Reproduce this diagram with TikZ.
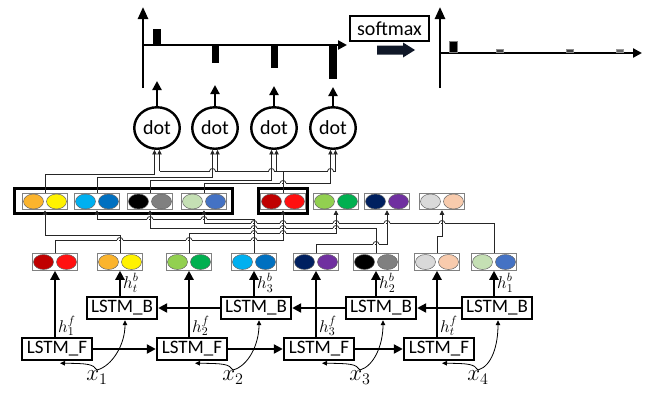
\RequirePackage{fix-cm}
\documentclass[tikz,border=0pt]{standalone}
\usepackage{fontspec}
\newfontfamily\carl{Carlito}
\usetikzlibrary{arrows.meta,shapes.geometric}
\definecolor{cOrange}{HTML}{FBB42D}
\definecolor{cYellow}{HTML}{FFF200}
\definecolor{cCyan}{HTML}{00B0F0}
\definecolor{cBlue}{HTML}{0070C0}
\definecolor{cGrey}{HTML}{808080}
\definecolor{cLGreen}{HTML}{C5E0B4}
\definecolor{cMBlue}{HTML}{4472C4}
\definecolor{cDRed}{HTML}{C00000}
\definecolor{cRed}{HTML}{FF1010}
\definecolor{cGreenA}{HTML}{92D050}
\definecolor{cGreenB}{HTML}{00B050}
\definecolor{cNavy}{HTML}{002060}
\definecolor{cPurple}{HTML}{7030A0}
\definecolor{cLGrey}{HTML}{D9D9D9}
\definecolor{cPeach}{HTML}{F8CBAD}
\definecolor{cBlk}{RGB}{16,24,40}
\newcommand{\mkpair}[5]{%
  \node[pairbox] (#1) at (#2,#3) {};
  \filldraw[ell, fill=#4] ([xshift=-11.5pt]#1.center) ellipse [x radius=10pt, y radius=7.5pt];
  \filldraw[ell, fill=#5] ([xshift=11.5pt]#1.center) ellipse [x radius=10pt, y radius=7.5pt];}
\newcommand{\hop}[2]{%
  \fill[white] (#1-2.9,#2-0.8) rectangle (#1-0.6,#2+0.8);
  \fill[white] (#1+0.6,#2-0.8) rectangle (#1+2.9,#2+0.8);
  \draw[wire] (#1-2.9,#2) .. controls (#1-2.9,#2-3.2) and (#1+2.9,#2-3.2) .. (#1+2.9,#2);}
\begin{document}
\begin{tikzpicture}[x=1pt,y=-1pt,
  wire/.style={line width=0.8pt, draw=black!85},
  wtip/.style={-{Triangle[length=4.5pt,width=4.5pt]}},
  bigarrow/.style={line width=2.2pt,-{Triangle[length=9pt,width=9pt]}},
  lstm/.style={draw, line width=2.4pt, minimum width=70pt, minimum height=22pt, inner sep=0pt, font=\carl\fontsize{19}{22}\selectfont},
  dotnode/.style={ellipse, draw, line width=2.4pt, minimum width=45.5pt, minimum height=41.5pt, inner sep=0pt, font=\carl\fontsize{20}{22}\selectfont},
  pairbox/.style={draw=black!50, line width=1pt, minimum width=45pt, minimum height=16.5pt, inner sep=0pt},
  ell/.style={draw=black!60, line width=0.5pt},
  hlab/.style={anchor=west, inner sep=0pt, font=\fontsize{17}{17}\selectfont},
  xlab/.style={anchor=north, inner sep=0.5pt, font=\fontsize{23}{23}\selectfont},
  inarrow/.style={line width=0.8pt,-{Triangle[length=5pt,width=4.5pt]}},
  axis/.style={line width=2.5pt},
]
\useasboundingbox (0,0) rectangle (651,394);

% ---------- top charts ----------
\draw[axis,-{Triangle[length=12pt,width=10pt]}] (143,88) -- (143,7);
\draw[axis,-{Triangle[length=9pt,width=9pt]}] (143,45) -- (347,45);
\fill (153,29) rectangle (161,44);
\fill (212,46) rectangle (219,63);
\fill (271,46) rectangle (278,68);
\fill (329,46) rectangle (337,79);

\node[draw, line width=2pt, minimum width=79pt, minimum height=25pt, inner sep=0pt,
      font=\carl\fontsize{20}{22}\selectfont] (sm) at (389.5,28.5) {softmax};
\fill[cBlk] (377,45.5) -- (403,45.5) -- (403,42.5) -- (415,50) -- (403,57.5) -- (403,54.5) -- (377,54.5) -- cycle;

\draw[axis,-{Triangle[length=12pt,width=10pt]}] (440,88) -- (440,7);
\draw[axis,-{Triangle[length=9pt,width=9pt]}] (440,53) -- (642,53);
\filldraw[fill=black, draw=black!50, line width=0.6pt] (449,41) rectangle (457,52);
\filldraw[fill=black!75, draw=black!45, line width=0.6pt] (496,49.3) rectangle (503,52);
\filldraw[fill=black!75, draw=black!45, line width=0.6pt] (566,49.3) rectangle (573,52);
\filldraw[fill=black!60, draw=black!40, line width=0.6pt] (616,49.3) rectangle (623,52);

% ---------- dots ----------
\node[dotnode] (d1) at (157,128) {dot};
\node[dotnode] (d2) at (215,128) {dot};
\node[dotnode] (d3) at (274,128) {dot};
\node[dotnode] (d4) at (333,128) {dot};
\coordinate (t1) at (157,81);
\coordinate (t2) at (215,85);
\coordinate (t3) at (274,86);
\coordinate (t4) at (333,87);
\foreach \i in {1,...,4} {
  \draw[bigarrow] (d\i.north) -- (t\i);
  \coordinate (dL\i) at ([xshift=-2.5pt]d\i.south);
  \coordinate (dR\i) at ([xshift=2.5pt]d\i.south);
}

% ---------- middle row ----------
\node[draw, line width=3pt, minimum width=218pt, minimum height=25pt, inner sep=0pt] (bb) at (123.5,201) {};
\node[draw, line width=3pt, minimum width=49pt, minimum height=25pt, inner sep=0pt] (rb) at (283,201) {};
\mkpair{m1}{45}{201.5}{cOrange}{cYellow}
\mkpair{m2}{97}{201.5}{cCyan}{cBlue}
\mkpair{m3}{150}{201.5}{black}{cGrey}
\mkpair{m4}{204}{201.5}{cLGreen}{cMBlue}
\mkpair{m5}{283}{201.5}{cDRed}{cRed}
\mkpair{m6}{336}{201.5}{cGreenA}{cGreenB}
\mkpair{m7}{387}{201.5}{cNavy}{cPurple}
\mkpair{m8}{442}{201.5}{cLGrey}{cPeach}

% ---------- bottom row ----------
\mkpair{b1}{55}{262}{cDRed}{cRed}
\mkpair{b2}{120}{262}{cOrange}{cYellow}
\mkpair{b3}{189}{262}{cGreenA}{cGreenB}
\mkpair{b4}{254}{262}{cCyan}{cBlue}
\mkpair{b5}{316}{262}{cNavy}{cPurple}
\mkpair{b6}{376}{262}{black}{cGrey}
\mkpair{b7}{437}{262}{cLGrey}{cPeach}
\mkpair{b8}{494}{262}{cLGreen}{cMBlue}

% ---------- level coordinates ----------
\coordinate (U171) at (0,171);
\coordinate (U174) at (0,174);
\coordinate (U177) at (0,177);
\coordinate (U180) at (0,180);
\coordinate (U183) at (0,183);
\coordinate (L219) at (0,219);
\coordinate (L223) at (0,223);
\coordinate (L228) at (0,228);
\coordinate (L233) at (0,233);
\coordinate (L235) at (0,235);
\coordinate (L236) at (0,236);
\coordinate (L240) at (0,240);
\coordinate (L244) at (0,244);

% ---------- wires: bottom -> middle ----------
\draw[wire,wtip] (b2.north) -- (b2.north |- L235) -| (m1.south);
\draw[wire,wtip] (b4.north) -- (b4.north |- L219) -| (m2.south);
\draw[wire,wtip] (b6.north) -- (b6.north |- L228) -| (m3.south);
\draw[wire,wtip] (b8.north) -- (b8.north |- L223) -| (m4.south);
\draw[wire,wtip] (b1.north) -- (b1.north |- L240) -| (m5.south);
\draw[wire,wtip] (b3.north) -- (b3.north |- L233) -| (m6.south);
\draw[wire,wtip] (b5.north) -- (b5.north |- L244) -| (m7.south);
\draw[wire,wtip] (b7.north) -- (b7.north |- L236) -| (m8.south);
\hop{150}{219}\hop{204}{219}
\hop{254}{223}\hop{283}{223}\hop{336}{223}\hop{387}{223}\hop{442}{223}
\hop{254}{228}\hop{283}{228}\hop{336}{228}
\hop{254}{233}\hop{283}{233}
\hop{120}{240}\hop{189}{240}\hop{254}{240}
\hop{376}{244}

% ---------- wires: middle -> dots ----------
\draw[wire,wtip] (m1.north) -- (m1.north |- U174) -| (dL1);
\draw[wire,wtip] (m2.north) -- (m2.north |- U177) -| (dL2);
\draw[wire,wtip] (m3.north) -- (m3.north |- U180) -| (dL3);
\draw[wire,wtip] (m4.north) -- (m4.north |- U183) -| (dL4);
\draw[wire] (m5.north) -- (m5.north |- U171);
\draw[wire] (dR1 |- U171) -- (dR4 |- U171);
\foreach \i in {1,...,4} \draw[wire,wtip] (dR\i |- U171) -- (dR\i);
\hop{212.5}{171}\hop{271.5}{171}\hop{330.5}{171}
\hop{283}{183}

% ---------- LSTM cells ----------
\node[lstm] (F1) at (57,349) {LSTM\_F};
\node[lstm] (F2) at (192,349) {LSTM\_F};
\node[lstm] (F3) at (319,349) {LSTM\_F};
\node[lstm] (F4) at (439,349) {LSTM\_F};
\node[lstm] (B1) at (122,308) {LSTM\_B};
\node[lstm] (B2) at (256,308) {LSTM\_B};
\node[lstm] (B3) at (381,308) {LSTM\_B};
\node[lstm] (B4) at (497,308) {LSTM\_B};

\draw[bigarrow] (F1.east) -- (F2.west);
\draw[bigarrow] (F2.east) -- (F3.west);
\draw[bigarrow] (F3.east) -- (F4.west);
\draw[bigarrow] (B2.west) -- (B1.east);
\draw[bigarrow] (B3.west) -- (B2.east);
\draw[bigarrow] (B4.west) -- (B3.east);

\draw[bigarrow] (b1.south |- F1.north) -- (b1.south);
\draw[bigarrow] (b2.south |- B1.north) -- (b2.south);
\draw[bigarrow] (b3.south |- F2.north) -- (b3.south);
\draw[bigarrow] (b4.south |- B2.north) -- (b4.south);
\draw[bigarrow] (b5.south |- F3.north) -- (b5.south);
\draw[bigarrow] (b6.south |- B3.north) -- (b6.south);
\draw[bigarrow] (b7.south |- F4.north) -- (b7.south);
\draw[bigarrow] (b8.south |- B4.north) -- (b8.south);
\fill (b3.south |- B2.west) circle (1.8pt);
\fill (b5.south |- B3.west) circle (1.8pt);
\fill (b7.south |- B4.west) circle (1.8pt);

\node[hlab] (hf1) at (58,326) {$h_1^f$};
\node[hlab] (hf2) at (192,326) {$h_2^f$};
\node[hlab] (hf3) at (319,326) {$h_3^f$};
\node[hlab] (hf4) at (440,326) {$h_t^f$};
\node[hlab] (hb1) at (123,283) {$h_t^b$};
\node[hlab] (hb2) at (257,283) {$h_3^b$};
\node[hlab] (hb3) at (379,283) {$h_2^b$};
\node[hlab] (hb4) at (497,283) {$h_1^b$};

% ---------- inputs ----------
\node[xlab] (x1) at (97,370) {$x_1$};
\node[xlab] (x2) at (233,370) {$x_2$};
\node[xlab] (x3) at (360,370) {$x_3$};
\node[xlab] (x4) at (478,370) {$x_4$};
\coordinate (fi1) at ([xshift=3pt,yshift=-2pt]F1.south);
\coordinate (fi2) at ([xshift=3pt,yshift=-2pt]F2.south);
\coordinate (fi3) at ([xshift=3pt,yshift=-2pt]F3.south);
\coordinate (fi4) at ([xshift=3pt,yshift=-2pt]F4.south);
\coordinate (bi1) at ([xshift=3pt]B1.south);
\coordinate (bi2) at ([xshift=3pt]B2.south);
\coordinate (bi3) at ([xshift=2pt]B3.south);
\coordinate (bi4) at ([xshift=1pt]B4.south);
\draw[inarrow] (x1.north) .. controls (93,364) and (88,363.5) .. (fi1);
\draw[inarrow] (x1.north) .. controls (112,366) and (125,345) .. (bi1);
\draw[inarrow] (x2.north) .. controls (229,364) and (224,363.5) .. (fi2);
\draw[inarrow] (x2.north) .. controls (248,366) and (259,345) .. (bi2);
\draw[inarrow] (x3.north) .. controls (356,364) and (351,363.5) .. (fi3);
\draw[inarrow] (x3.north) .. controls (374,366) and (383,345) .. (bi3);
\draw[inarrow] (x4.north) .. controls (474,364) and (469,363.5) .. (fi4);
\draw[inarrow] (x4.north) .. controls (492,366) and (498,345) .. (bi4);
\end{tikzpicture}
\end{document}
